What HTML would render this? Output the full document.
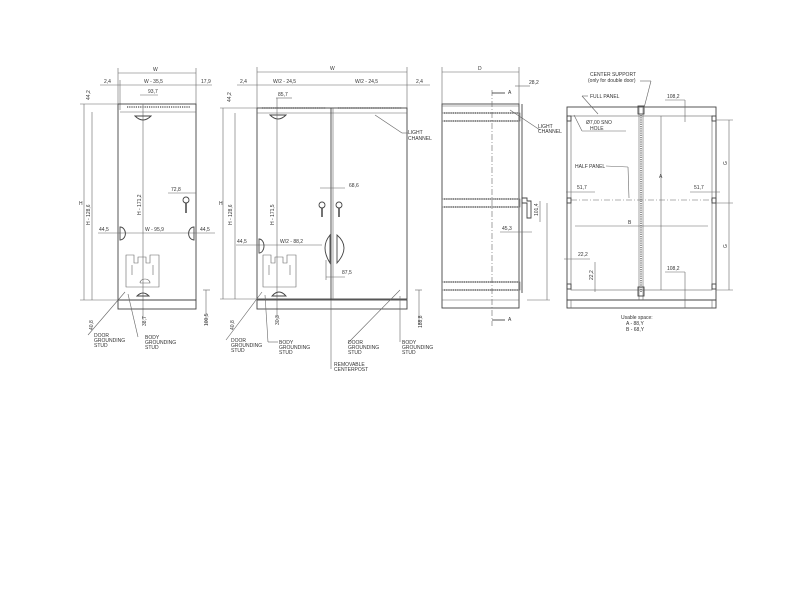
<!DOCTYPE html>
<html><head><meta charset="utf-8"><style>
html,body{margin:0;padding:0;background:#fff;width:800px;height:600px;overflow:hidden}
svg{display:block}
text{font-family:"Liberation Sans",sans-serif;font-size:5px;fill:#333}
.l{stroke:#444;stroke-width:0.9;fill:none}
.t{stroke:#666;stroke-width:0.6;fill:none}
.d{stroke:#666;stroke-width:0.6;fill:none;stroke-dasharray:6 2 1 2}
.h{stroke:#666;stroke-width:1.4;fill:none;stroke-dasharray:1.2 1}
</style></head><body>
<svg width="800" height="600" viewBox="0 0 800 600">
<!-- VIEW 1 -->
<g>
<line class="t" x1="118" y1="73" x2="196" y2="73"/><text x="153" y="71">W</text>
<line class="t" x1="100" y1="85" x2="212" y2="85"/>
<text x="104" y="83">2,4</text><text x="144" y="83">W - 35,5</text><text x="201" y="83">17,9</text>
<line class="t" x1="118" y1="68" x2="118" y2="110"/><line class="t" x1="196" y1="68" x2="196" y2="110"/>
<line class="t" x1="120" y1="80" x2="120" y2="110"/>
<text x="148" y="93">93,7</text><line class="t" x1="140" y1="95" x2="158" y2="95"/>
<rect class="l" x="118" y="104" width="78" height="196"/>
<line class="t" x1="120" y1="112" x2="196" y2="112"/>
<line class="h" x1="127" y1="107" x2="190" y2="107"/>
<line class="t" x1="143" y1="104" x2="143" y2="320"/>
<path class="l" d="M135 116 q8 8 16 0 z"/>
<rect class="l" x="118" y="300" width="78" height="9"/>
<line class="t" x1="80" y1="104" x2="118" y2="104"/><line class="t" x1="80" y1="300" x2="118" y2="300"/>
<line class="t" x1="84" y1="104" x2="84" y2="300"/><text x="79" y="205">H</text>
<line class="t" x1="92" y1="112" x2="92" y2="300"/>
<text transform="translate(90,225) rotate(-90)">H - 128,6</text>
<text transform="translate(141,215) rotate(-90)">H - 171,2</text>
<text transform="translate(90,100) rotate(-90)">44,2</text>
<line class="t" x1="98" y1="233" x2="215" y2="233"/>
<text x="99" y="231">44,5</text><text x="145" y="231">W - 95,9</text><text x="200" y="231">44,5</text>
<path class="l" d="M120 227 a5 6 0 0 1 0 13 z M194 227 a5 6 0 0 0 0 13 z"/>
<line class="t" x1="168" y1="193" x2="196" y2="193"/><text x="171" y="191">72,8</text>
<circle class="l" cx="186" cy="200" r="3"/><line x1="186" y1="203" x2="186" y2="213" stroke="#444" stroke-width="1.5"/>
<path class="t" d="M126 255 h8 v8 h4 v-6 h8 v6 h4 v-8 h9 v32 h-33 z M132 265 v10 M153 265 v10 M140 283 h10 a5 4 0 0 0 -10 0"/>
<path class="l" d="M137 296 q6 -6 12 0 z"/>
<line class="t" x1="203" y1="290" x2="210" y2="290"/><line class="t" x1="206" y1="290" x2="206" y2="325"/>
<text transform="translate(93,330) rotate(-90)">40,8</text>
<text transform="translate(146,326) rotate(-90)">38,7</text>
<text transform="translate(208,326) rotate(-90)">100,5</text>
<line class="t" x1="125" y1="292" x2="88" y2="335"/>
<line class="t" x1="128" y1="294" x2="138" y2="337"/>
<text x="94" y="337">DOOR</text><text x="94" y="342">GROUNDING</text><text x="94" y="347">STUD</text>
<text x="145" y="339">BODY</text><text x="145" y="344">GROUNDING</text><text x="145" y="349">STUD</text>
</g>
<!-- VIEW 2 -->
<g>
<line class="t" x1="257" y1="72" x2="407" y2="72"/><text x="330" y="70">W</text>
<line class="t" x1="237" y1="85" x2="430" y2="85"/>
<text x="240" y="83">2,4</text><text x="273" y="83">W/2 - 24,5</text><text x="355" y="83">W/2 - 24,5</text><text x="416" y="83">2,4</text>
<line class="t" x1="257" y1="67" x2="257" y2="110"/><line class="t" x1="407" y1="67" x2="407" y2="110"/>
<rect class="l" x="257" y="108" width="150" height="191"/>
<line class="t" x1="257" y1="113" x2="407" y2="113"/>
<line class="h" x1="262" y1="108" x2="326" y2="108"/><line class="h" x1="338" y1="108" x2="402" y2="108"/>
<line class="l" x1="331" y1="108" x2="331" y2="300"/><line class="t" x1="333" y1="108" x2="333" y2="300"/>
<path class="l" d="M270 115 q8 8 16 0 z"/>
<text x="278" y="96">85,7</text><line class="t" x1="276" y1="98" x2="292" y2="98"/>
<line class="t" x1="277" y1="98" x2="277" y2="320"/>
<rect class="l" x="257" y="300" width="150" height="9"/>
<line class="t" x1="220" y1="108" x2="257" y2="108"/><line class="t" x1="220" y1="299" x2="257" y2="299"/>
<line class="t" x1="223" y1="108" x2="223" y2="299"/><text x="219" y="205">H</text>
<line class="t" x1="235" y1="113" x2="235" y2="299"/>
<text transform="translate(232,225) rotate(-90)">H - 128,6</text>
<text transform="translate(274,225) rotate(-90)">H - 171,5</text>
<text transform="translate(231,102) rotate(-90)">44,2</text>
<line class="t" x1="320" y1="188" x2="345" y2="188"/><text x="349" y="187">68,6</text>
<circle class="l" cx="322" cy="205" r="3"/><line x1="322" y1="208" x2="322" y2="217" stroke="#444" stroke-width="1.5"/>
<circle class="l" cx="339" cy="205" r="3"/><line x1="339" y1="208" x2="339" y2="217" stroke="#444" stroke-width="1.5"/>
<line class="t" x1="236" y1="245" x2="322" y2="245"/>
<text x="237" y="243">44,5</text><text x="280" y="243">W/2 - 88,2</text>
<path class="l" d="M259 239 a5 7 0 0 1 0 14 z"/>
<path class="l" d="M330 235 q-10 12 0 28 z M337 235 q14 12 0 28 z"/>
<line class="t" x1="326" y1="260" x2="326" y2="280"/><line class="t" x1="326" y1="277" x2="345" y2="277"/><text x="342" y="274">87,5</text>
<path class="t" d="M263 255 h8 v8 h4 v-6 h8 v6 h4 v-8 h9 v32 h-33 z M269 265 v10 M290 265 v10"/>
<path class="l" d="M272 296 q7 -8 14 0 z"/>
<line class="t" x1="415" y1="290" x2="422" y2="290"/><line class="t" x1="419" y1="290" x2="419" y2="325"/>
<text transform="translate(422,328) rotate(-90)">188,8</text>
<text transform="translate(234,330) rotate(-90)">40,8</text>
<text transform="translate(279,325) rotate(-90)">30,3</text>
<line class="t" x1="262" y1="292" x2="226" y2="340"/>
<line class="t" x1="265" y1="295" x2="268" y2="342"/><line class="t" x1="268" y1="342" x2="278" y2="342"/>
<line class="t" x1="400" y1="290" x2="348" y2="343"/>
<line class="t" x1="400" y1="296" x2="400" y2="342"/>
<line class="t" x1="331" y1="300" x2="331" y2="369"/>
<text x="231" y="342">DOOR</text><text x="231" y="347">GROUNDING</text><text x="231" y="352">STUD</text>
<text x="279" y="344">BODY</text><text x="279" y="349">GROUNDING</text><text x="279" y="354">STUD</text>
<text x="348" y="344">DOOR</text><text x="348" y="349">GROUNDING</text><text x="348" y="354">STUD</text>
<text x="402" y="344">BODY</text><text x="402" y="349">GROUNDING</text><text x="402" y="354">STUD</text>
<text x="334" y="366">REMOVABLE</text><text x="334" y="371">CENTERPOST</text>
<line class="t" x1="375" y1="115" x2="402" y2="133"/><line class="t" x1="402" y1="133" x2="408" y2="133"/>
<text x="408" y="134">LIGHT</text><text x="408" y="140">CHANNEL</text>
</g>
<!-- VIEW 3 -->
<g>
<line class="t" x1="442" y1="72" x2="519" y2="72"/><text x="478" y="70">D</text>
<line class="t" x1="442" y1="67" x2="442" y2="104"/><line class="t" x1="519" y1="67" x2="519" y2="104"/>
<line class="t" x1="515" y1="86" x2="530" y2="86"/><text x="529" y="84">28,2</text>
<rect class="l" x="442" y="104" width="77" height="204"/>
<line class="l" x1="522" y1="104" x2="522" y2="293"/>
<line class="t" x1="442" y1="300" x2="519" y2="300"/>
<line class="t" x1="442" y1="106" x2="519" y2="106"/>
<rect class="t" x="442" y="113" width="78" height="8"/><line class="h" x1="444" y1="113" x2="518" y2="113"/><line class="h" x1="444" y1="121" x2="518" y2="121"/>
<rect class="t" x="442" y="199" width="78" height="8"/><line class="h" x1="444" y1="199" x2="518" y2="199"/><line class="h" x1="444" y1="207" x2="518" y2="207"/>
<rect class="t" x="442" y="282" width="78" height="8"/><line class="h" x1="444" y1="282" x2="518" y2="282"/><line class="h" x1="444" y1="290" x2="518" y2="290"/>
<line class="d" x1="492" y1="90" x2="492" y2="326"/>
<line class="l" x1="492" y1="93" x2="505" y2="93"/><text x="508" y="94">A</text>
<line class="l" x1="492" y1="320" x2="505" y2="320"/><text x="508" y="321">A</text>
<line class="t" x1="510" y1="110" x2="540" y2="130"/>
<text x="538" y="128">LIGHT</text><text x="538" y="133">CHANNEL</text>
<path class="l" d="M522 198 h5 v3 h4 v17 h-4 v-15 h-5 z"/>
<line class="t" x1="540" y1="201" x2="540" y2="222"/><text transform="translate(538,216) rotate(-90)">101,4</text>
<line class="t" x1="500" y1="232" x2="532" y2="232"/><text x="502" y="230">45,3</text>
<line class="t" x1="547" y1="203" x2="547" y2="300"/><line class="t" x1="527" y1="300" x2="550" y2="300"/>
</g>
<!-- VIEW 4 -->
<g>
<rect class="l" x="567" y="107" width="149" height="193"/>
<rect class="t" x="571" y="116" width="141" height="174"/>
<rect class="l" x="567" y="300" width="149" height="8"/>
<line class="t" x1="571" y1="300" x2="571" y2="308"/><line class="t" x1="712" y1="300" x2="712" y2="308"/>
<line class="t" x1="639" y1="107" x2="639" y2="300"/><line class="t" x1="643" y1="107" x2="643" y2="300"/>
<line class="h" x1="641" y1="115" x2="641" y2="292"/>
<line class="d" x1="571" y1="200" x2="712" y2="200"/>
<rect class="l" x="638" y="106" width="6" height="8"/><rect class="l" x="638" y="287" width="6" height="9"/>
<rect class="l" x="567" y="116" width="4" height="5"/><rect class="l" x="712" y="116" width="4" height="5"/>
<rect class="l" x="567" y="198" width="4" height="5"/><rect class="l" x="712" y="198" width="4" height="5"/>
<rect class="l" x="567" y="284" width="4" height="5"/><rect class="l" x="712" y="284" width="4" height="5"/>
<line class="t" x1="661" y1="116" x2="661" y2="290"/><text x="659" y="178">A</text>
<line class="t" x1="575" y1="226" x2="708" y2="226"/><text x="628" y="224">B</text>
<line class="t" x1="716" y1="120" x2="733" y2="120"/><line class="t" x1="716" y1="290" x2="733" y2="290"/>
<line class="t" x1="729" y1="120" x2="729" y2="290"/>
<text transform="translate(727,165) rotate(-90)">G</text><text transform="translate(727,248) rotate(-90)">G</text>
<line class="t" x1="716" y1="203" x2="733" y2="203"/>
<text x="590" y="76">CENTER SUPPORT</text><text x="588" y="82">(only for double door)</text>
<line class="t" x1="640" y1="81" x2="651" y2="81"/><line class="t" x1="651" y1="81" x2="644" y2="108"/>
<text x="590" y="98">FULL PANEL</text><line class="t" x1="582" y1="96" x2="588" y2="96"/><line class="t" x1="582" y1="96" x2="598" y2="114"/>
<text x="667" y="98">108,2</text><line class="t" x1="665" y1="100" x2="685" y2="100"/><line class="t" x1="685" y1="100" x2="685" y2="122"/>
<text x="586" y="124">Ø7,00 SNO</text><text x="590" y="130">HOLE</text>
<line class="t" x1="574" y1="115" x2="582" y2="131"/><line class="t" x1="582" y1="131" x2="626" y2="131"/>
<text x="575" y="168">HALF PANEL</text><line class="t" x1="606" y1="166" x2="628" y2="167"/><line class="t" x1="628" y1="167" x2="629" y2="198"/>
<line class="t" x1="566" y1="192" x2="595" y2="192"/><text x="577" y="189">51,7</text>
<line class="t" x1="690" y1="192" x2="720" y2="192"/><text x="694" y="189">51,7</text>
<line class="t" x1="564" y1="259" x2="590" y2="259"/><text x="578" y="256">22,2</text>
<line class="t" x1="595" y1="262" x2="595" y2="292"/><text transform="translate(593,280) rotate(-90)">22,2</text>
<text x="667" y="270">108,2</text><line class="t" x1="665" y1="272" x2="685" y2="272"/><line class="t" x1="685" y1="272" x2="685" y2="308"/>
<text x="621" y="319">Usable space:</text><text x="626" y="325">A - 88,Y</text><text x="626" y="331">B - 68,Y</text>
</g>
</svg>
</body></html>
